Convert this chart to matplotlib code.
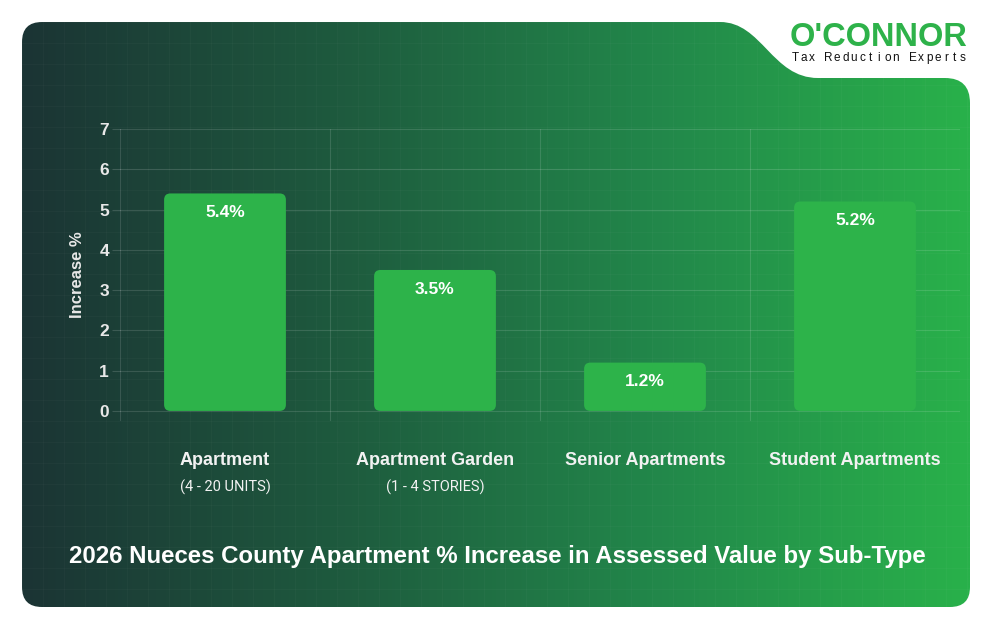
import matplotlib.pyplot as plt
import numpy as np
from matplotlib.path import Path
from matplotlib.patches import PathPatch, FancyBboxPatch
from matplotlib.colors import LinearSegmentedColormap
import matplotlib.transforms as mtransforms

categories = ["Apartment", "Apartment Garden", "Senior Apartments", "Student Apartments"]
sublabels = ["(4 - 20 UNITS)", "(1 - 4 STORIES)", "", ""]
values = [5.4, 3.5, 1.2, 5.2]
yticks = [0, 1, 2, 3, 4, 5, 6, 7]
title = "2026 Nueces County Apartment % Increase in Assessed Value by Sub-Type"

plt.rcParams["font.family"] = ["Liberation Sans", "DejaVu Sans"]

W, H = 994, 632
fig = plt.figure(figsize=(W / 100, H / 100), dpi=100)
fig.patch.set_facecolor("white")

# background panel (pixel coordinates)
bg = fig.add_axes([0, 0, 1, 1])
bg.set_xlim(0, W)
bg.set_ylim(H, 0)
bg.axis("off")

verts = [
    (42, 22), (720, 22),
    (762, 22), (772, 78), (818, 78),
    (945, 78),
    (970, 78), (970, 103),
    (970, 587),
    (970, 607), (950, 607),
    (42, 607),
    (22, 607), (22, 587),
    (22, 42),
    (22, 22), (42, 22),
    (42, 22),
]
codes = [
    Path.MOVETO, Path.LINETO,
    Path.CURVE4, Path.CURVE4, Path.CURVE4,
    Path.LINETO,
    Path.CURVE3, Path.CURVE3,
    Path.LINETO,
    Path.CURVE3, Path.CURVE3,
    Path.LINETO,
    Path.CURVE3, Path.CURVE3,
    Path.LINETO,
    Path.CURVE3, Path.CURVE3,
    Path.CLOSEPOLY,
]
panel = PathPatch(Path(verts, codes), facecolor="none", edgecolor="none", transform=bg.transData)
bg.add_patch(panel)

cmap = LinearSegmentedColormap.from_list(
    "panel", ["#1b3434", "#1e5a3e", "#22874a", "#29b14b"]
)
grad = np.tile(np.linspace(0, 1, 512), (8, 1))
im = bg.imshow(grad, cmap=cmap, extent=(22, 970, 607, 22), aspect="auto", zorder=0)
im.set_clip_path(panel)

# faint texture grid
for gx in np.arange(22, 970, 21):
    ln = bg.axvline(gx, color="white", alpha=0.025, lw=0.8, zorder=1)
    ln.set_clip_path(panel)
for gy in np.arange(22, 607, 21):
    ln = bg.axhline(gy, color="white", alpha=0.025, lw=0.8, zorder=1)
    ln.set_clip_path(panel)

# logo
bg.text(879, 37, "O'CONNOR", color="#2eb24a", fontsize=23.5, fontweight="bold",
        ha="center", va="center")
tagline = "Tax Reduction Experts"
step = 168 / (len(tagline) - 1)
for i, ch in enumerate(tagline):
    bg.text(795 + i * step, 58, ch, color="#111111", fontsize=8.5,
            ha="center", va="center")

# title
bg.text(497, 556, title, color="white", fontsize=17.3, fontweight="bold",
        ha="center", va="center")

# chart
ax = fig.add_axes([120 / W, 1 - 421 / H, 840 / W, 292 / H])
ax.set_facecolor("none")
x = np.arange(len(categories))
ax.set_xlim(-0.5, len(categories) - 0.5)
ax.set_ylim(-0.25, 7)

bar_w = 0.58
bars = ax.bar(x, values, width=bar_w, color="#2db34a", zorder=3)
for b in bars:
    b.set_visible(False)
    fb = FancyBboxPatch((b.get_x(), 0), b.get_width(), b.get_height(),
                        boxstyle="round,pad=0,rounding_size=0.03",
                        mutation_aspect=5.2, facecolor="#2db34a",
                        edgecolor="none", zorder=3)
    ax.add_patch(fb)

for xi, v in zip(x, values):
    ax.annotate(f"{v}%", (xi, v), xytext=(0, -8.5), textcoords="offset points",
                ha="center", va="top", color="white", fontsize=12.5,
                fontweight="bold", zorder=4)

ax.set_yticks(yticks)
ax.set_xticks(np.arange(-0.5, len(categories), 1.0))
ax.set_xticklabels([])
ax.tick_params(axis="x", length=0)
ax.tick_params(axis="y", length=6, color=(1, 1, 1, 0.15), labelcolor="#e8e8e8",
               labelsize=12.5, pad=2)
for lbl in ax.get_yticklabels():
    lbl.set_fontweight("bold")
ax.grid(True, color="white", alpha=0.13, lw=0.8, zorder=0)
for s in ax.spines.values():
    s.set_visible(False)

ax.set_ylabel("Increase %", color="#e8e8e8", fontsize=12, fontweight="bold", labelpad=10)

trans = mtransforms.blended_transform_factory(ax.transData, fig.transFigure)
for xi, cat, sub in zip(x, categories, sublabels):
    ax.text(xi, 1 - 460.5 / H, cat, transform=trans, ha="center", va="center",
            color="#f2f2f2", fontsize=13, fontweight="bold")
    if sub:
        ax.text(xi, 1 - 487.5 / H, sub, transform=trans, ha="center", va="center",
                color="#f2f2f2", fontsize=10.5, family="Roboto")

fig.savefig("out.png", dpi=100, facecolor=fig.get_facecolor())
